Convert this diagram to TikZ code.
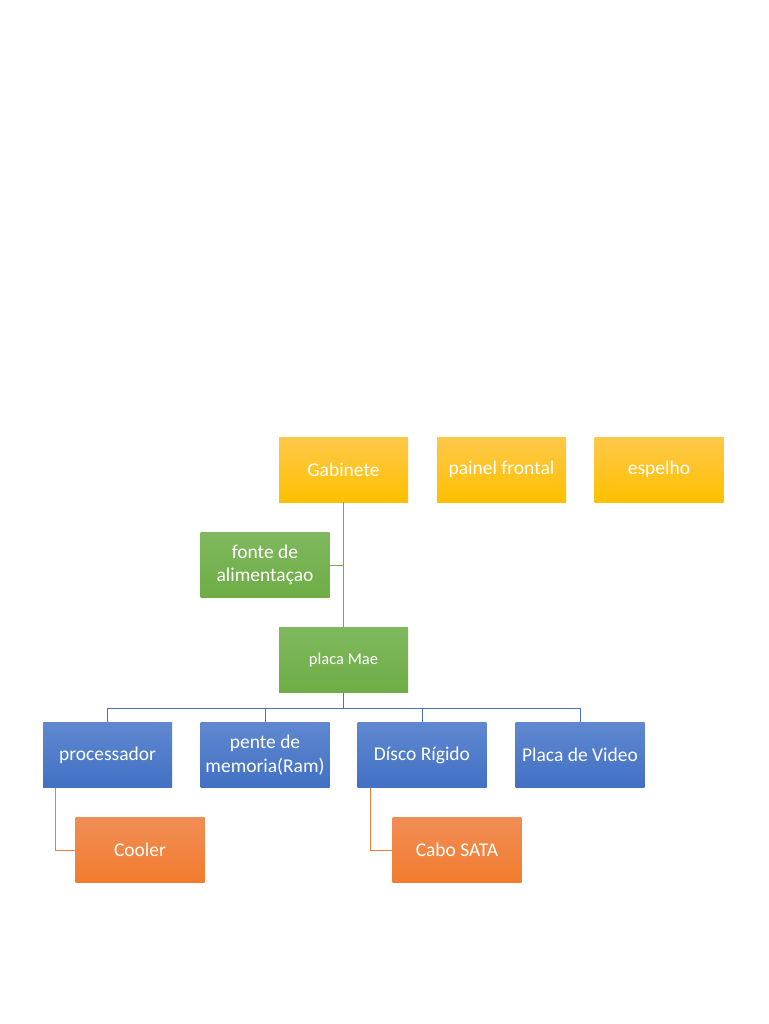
\documentclass[tikz,border=0pt]{standalone}
\usepackage{fontspec}
\setmainfont{Carlito}
\definecolor{goldT}{HTML}{FFC84A}
\definecolor{goldB}{HTML}{FFC000}
\definecolor{greenT}{HTML}{7FB85E}
\definecolor{greenB}{HTML}{6EAD45}
\definecolor{blueT}{HTML}{5F88D0}
\definecolor{blueB}{HTML}{4270C4}
\definecolor{orangeT}{HTML}{F08D55}
\definecolor{orangeB}{HTML}{F27C2E}
\definecolor{greenL}{HTML}{70AD47}
\definecolor{blueL}{HTML}{4472C4}
\definecolor{orangeL}{HTML}{ED7D31}
\tikzset{
  box/.style={rectangle, minimum width=129pt, minimum height=65pt, inner sep=2pt,
    text=white, align=center, font=\fontsize{19.5}{23.5}\selectfont},
  goldbox/.style={box, top color=goldT, bottom color=goldB},
  greenbox/.style={box, top color=greenT, bottom color=greenB},
  bluebox/.style={box, top color=blueT, bottom color=blueB},
  orangebox/.style={box, top color=orangeT, bottom color=orangeB},
  gline/.style={draw=greenL, line width=1pt},
  bline/.style={draw=blueL, line width=1pt},
  oline/.style={draw=orangeL, line width=1pt},
}
\begin{document}
\begin{tikzpicture}[x=1pt,y=-1pt]
\useasboundingbox[fill=white] (0,0) rectangle (768,1024);
\node[goldbox] (gab) at (343.5,469.5) {Gabinete};
\node[goldbox] (pai) at (501.5,469.5) {painel frontal};
\node[goldbox] (esp) at (659,469.5) {espelho};
\node[greenbox] (fon) at (265,565) {fonte de\\alimentaçao};
\node[greenbox, font=\fontsize{16.5}{20}\selectfont] (mae) at (343.5,660) {placa Mae};
\node[bluebox] (pro) at (107.5,755) {processador};
\node[bluebox] (pen) at (265,755) {pente de\\memoria(Ram)};
\node[bluebox] (dis) at (422,755) {Dísco Rígido};
\node[bluebox] (vid) at (580,755) {Placa de Video};
\node[orangebox] (coo) at (140,850) {Cooler};
\node[orangebox] (sat) at (457,850) {Cabo SATA};
\draw[gline] (gab.south) -- (mae.north);
\draw[gline] (fon.east) -- (fon.east -| gab.south);
\coordinate (bus) at (343.5,708);
\draw[bline] (mae.south) -- (bus);
\draw[bline] (pro.north) -- (pro.north |- bus) -- (vid.north |- bus) -- (vid.north);
\draw[bline] (pen.north) -- (pen.north |- bus);
\draw[bline] (dis.north) -- (dis.north |- bus);
\draw[oline] ([xshift=13pt]pro.south west) |- (coo.west);
\draw[oline] ([xshift=13pt]dis.south west) |- (sat.west);
\end{tikzpicture}
\end{document}
